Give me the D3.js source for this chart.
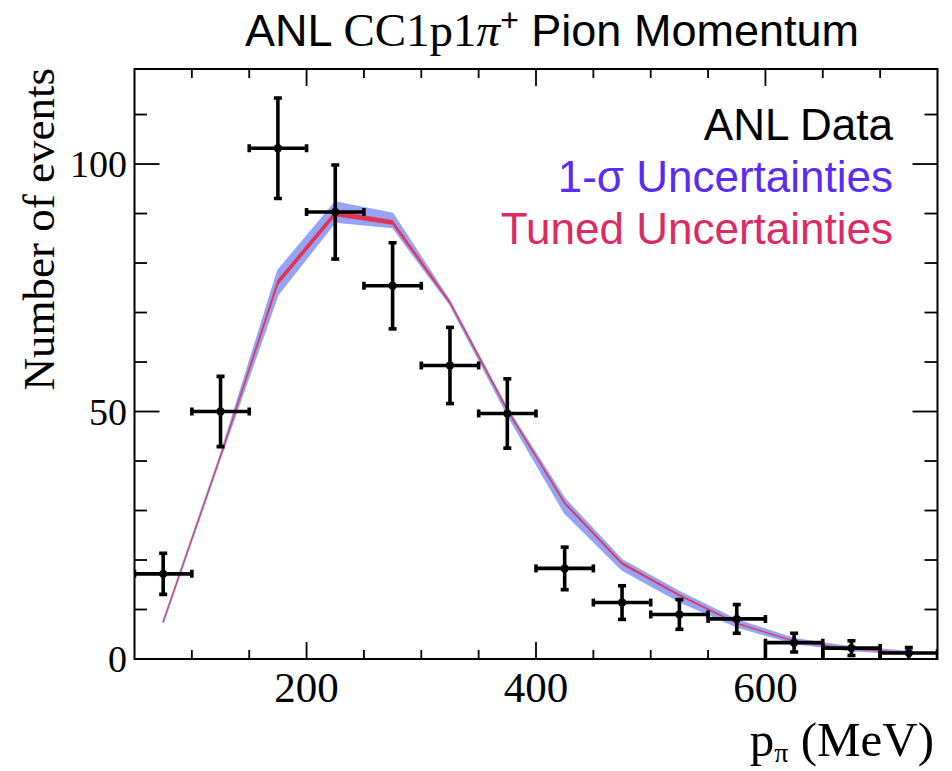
<!DOCTYPE html>
<html>
<head>
<meta charset="utf-8">
<script src="https://cdn.jsdelivr.net/npm/d3@7"></script>
<style>
  html, body { margin: 0; padding: 0; background: #fff; }
  svg { display: block; }
</style>
</head>
<body>
<svg id="chart" width="952" height="771"></svg>
<script>
// ---- data ----
const binCenters = [75, 125, 175, 225, 275, 325, 375, 425, 475, 525, 575, 625, 675, 725];
const binHalfWidth = [25, 25, 25, 25, 25, 25, 25, 25, 25, 25, 25, 25, 25, 25];
const dataValues = [17.2, 50.0, 103.2, 90.3, 75.4, 59.3, 49.6, 18.3, 11.4, 9.0, 8.1, 3.3, 2.2, 1.2];
const dataErrors = [4.15, 7.1, 10.15, 9.5, 8.7, 7.7, 7.0, 4.3, 3.4, 3.0, 2.9, 1.9, 1.5, 1.1];
const mcCentral = [7.5, 41.0, 76.1, 90.0, 88.2, 72.0, 50.3, 31.5, 19.3, 12.9, 7.2, 3.6, 2.0, 1.3];
const sigmaLow  = [7.3, 40.7, 73.6, 88.3, 87.2, 71.6, 49.4, 29.5, 18.0, 11.6, 6.5, 3.2, 1.7, 1.1];
const sigmaHigh = [7.7, 41.3, 78.5, 92.3, 90.0, 72.3, 50.6, 32.4, 20.0, 13.6, 7.9, 4.1, 2.4, 1.5];
const tunedLow  = [7.45, 40.85, 75.6, 89.5, 87.8, 71.8, 50.1, 31.3, 19.1, 12.75, 7.1, 3.55, 1.95, 1.27];
const tunedHigh = [7.55, 41.15, 76.6, 90.5, 88.6, 72.2, 50.5, 31.7, 19.5, 13.05, 7.3, 3.65, 2.05, 1.33];
const xMajorTicks = [200, 400, 600];
const xMinorTicks = [100, 150, 250, 300, 350, 450, 500, 550, 650, 700];
const yMajorTicks = [0, 50, 100];
const yMinorTicks = [10, 20, 30, 40, 60, 70, 80, 90, 110];
const legendLabels = ["ANL Data", "1-\u03C3 Uncertainties", "Tuned Uncertainties"];

// ---- layout ----
const L = 134.5, R = 937.5, T = 69, B = 659;
const svg = d3.select("#chart");
const x = d3.scaleLinear().domain([50, 750]).range([L, R]);
const y = d3.scaleLinear().domain([0, 119.2]).range([B, T]);

const rows = binCenters.map((c, i) => ({
  c, hw: binHalfWidth[i], v: dataValues[i], e: dataErrors[i],
  m: mcCentral[i], sl: sigmaLow[i], sh: sigmaHigh[i], tl: tunedLow[i], th: tunedHigh[i]
}));

svg.append("clipPath").attr("id", "frameClip")
  .append("rect").attr("x", L).attr("y", T).attr("width", R - L).attr("height", B - T);
const plot = svg.append("g").attr("clip-path", "url(#frameClip)");

// 1-sigma band
const sigArea = d3.area().x(d => x(d.c)).y0(d => y(d.sl)).y1(d => y(d.sh));
plot.append("path").datum(rows).attr("d", sigArea)
  .attr("fill", "#96a4f6").attr("stroke", "#96a4f6").attr("stroke-width", 1.6);

// tuned band
const tunArea = d3.area().x(d => x(d.c)).y0(d => y(d.tl)).y1(d => y(d.th));
plot.append("path").datum(rows).attr("d", tunArea)
  .attr("fill", "#e2334f").attr("stroke", "#e2334f").attr("stroke-width", 0.9)
  .attr("stroke-opacity", 0.6);

// data points
const pts = plot.append("g").attr("stroke", "#000").attr("stroke-width", 3.6).attr("fill", "none");
rows.forEach(d => {
  const cx = x(d.c), cy = y(d.v);
  const xl = x(d.c - d.hw), xr = x(d.c + d.hw);
  pts.append("line").attr("x1", xl).attr("x2", xr).attr("y1", cy).attr("y2", cy);
  pts.append("line").attr("x1", cx).attr("x2", cx).attr("y1", y(d.v + d.e)).attr("y2", y(Math.max(0, d.v - d.e)));
  const capTop = cy - 4;
  const capBot = d.v < 5 ? y(0) : cy + 4;
  pts.append("line").attr("x1", xl).attr("x2", xl).attr("y1", capTop).attr("y2", capBot);
  pts.append("line").attr("x1", xr).attr("x2", xr).attr("y1", capTop).attr("y2", capBot);
  pts.append("line").attr("x1", cx - 4).attr("x2", cx + 4).attr("y1", y(d.v + d.e)).attr("y2", y(d.v + d.e));
  if (d.v - d.e > 0.3)
    pts.append("line").attr("x1", cx - 4).attr("x2", cx + 4).attr("y1", y(d.v - d.e)).attr("y2", y(d.v - d.e));
  pts.append("circle").attr("cx", cx).attr("cy", cy).attr("r", 4.2).attr("fill", "#000").attr("stroke", "none");
});

// ---- frame & ticks ----
const axisG = svg.append("g").attr("stroke", "#000").attr("fill", "none");
axisG.append("rect").attr("x", L).attr("y", T).attr("width", R - L).attr("height", B - T).attr("stroke-width", 2);
const tk = axisG.append("g").attr("stroke-width", 1.8);
xMajorTicks.forEach(v => {
  tk.append("line").attr("x1", x(v)).attr("x2", x(v)).attr("y1", B).attr("y2", B - 17);
  tk.append("line").attr("x1", x(v)).attr("x2", x(v)).attr("y1", T).attr("y2", T + 17);
});
xMinorTicks.forEach(v => {
  tk.append("line").attr("x1", x(v)).attr("x2", x(v)).attr("y1", B).attr("y2", B - 9);
  tk.append("line").attr("x1", x(v)).attr("x2", x(v)).attr("y1", T).attr("y2", T + 9);
});
yMajorTicks.forEach(v => {
  tk.append("line").attr("x1", L).attr("x2", L + 25).attr("y1", y(v)).attr("y2", y(v));
  tk.append("line").attr("x1", R).attr("x2", R - 25).attr("y1", y(v)).attr("y2", y(v));
});
yMinorTicks.forEach(v => {
  tk.append("line").attr("x1", L).attr("x2", L + 12.5).attr("y1", y(v)).attr("y2", y(v));
  tk.append("line").attr("x1", R).attr("x2", R - 13).attr("y1", y(v)).attr("y2", y(v));
});

// tick labels
const serif = "'Liberation Serif','Times New Roman',serif";
const sans = "'Liberation Sans',Arial,sans-serif";
svg.append("g").selectAll("text").data(xMajorTicks).join("text")
  .attr("x", d => x(d)).attr("y", 702).attr("text-anchor", "middle")
  .attr("font-family", serif).attr("font-size", 43).text(d => d);
svg.append("g").selectAll("text").data(yMajorTicks).join("text")
  .attr("x", 127).attr("y", d => y(d) + 13).attr("text-anchor", "end")
  .attr("font-family", serif).attr("font-size", 38).text(d => d);

// axis titles
const xt = svg.append("text").attr("x", 934).attr("y", 756).attr("text-anchor", "end")
  .attr("font-family", serif).attr("font-size", 49);
xt.append("tspan").text("p");
xt.append("tspan").attr("font-size", 28).attr("dy", 6).text("\u03C0");
xt.append("tspan").attr("dy", -6).text(" (MeV)");

svg.append("text").attr("transform", "translate(54,68) rotate(-90)")
  .attr("text-anchor", "end").attr("font-family", serif).attr("font-size", 45)
  .text("Number of events");

// title
const tt = svg.append("text").attr("x", 552).attr("y", 46).attr("text-anchor", "middle")
  .attr("font-family", sans).attr("font-size", 45);
tt.append("tspan").text("ANL ");
tt.append("tspan").attr("font-family", serif).attr("font-size", 47).text("CC1p1");
tt.append("tspan").attr("font-family", serif).attr("font-size", 47).attr("font-style", "italic").text("\u03C0");
tt.append("tspan").attr("font-size", 32).attr("dy", -15).text("+");
tt.append("tspan").attr("dy", 15).text(" Pion Momentum");

// legend
const legColors = ["#000000", "#5a2cf3", "#dc2a62"];
svg.append("g").selectAll("text").data(legendLabels).join("text")
  .attr("x", 893).attr("y", (d, i) => 140 + i * 52).attr("text-anchor", "end")
  .attr("font-family", sans).attr("font-size", 44)
  .attr("fill", (d, i) => legColors[i]).text(d => d);
</script>
</body>
</html>
